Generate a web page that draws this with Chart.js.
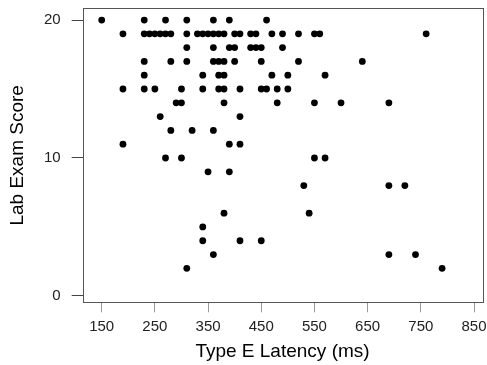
<!DOCTYPE html>
<html>
<head>
<meta charset="utf-8">
<script src="https://cdn.jsdelivr.net/npm/chart.js@4.4.1/dist/chart.umd.min.js"></script>
<style>
  html, body { margin: 0; padding: 0; background: #fff; }
  #wrap { width: 487px; height: 365px; }
</style>
</head>
<body>
<div id="wrap"><canvas id="scatterChart"></canvas></div>
<script>
// Type E latency (ms) and lab exam score, one entry per student
const latency = [
  150, 230, 270, 310, 360, 390, 460,
  190, 230, 240, 250, 260, 270, 280, 310, 330, 340, 350, 360, 370, 380, 400, 410, 430, 440, 470, 490, 520, 550, 560, 760,
  310, 360, 390, 400, 430, 440, 450, 490,
  230, 280, 310, 360, 370, 380, 400, 450, 520, 640,
  230, 340, 370, 380, 470, 500, 570,
  190, 230, 250, 300, 340, 370, 380, 410, 450, 460, 480, 500,
  290, 300, 380, 480, 550, 600, 690,
  260, 410,
  280, 320, 360,
  190, 390, 410,
  270, 300, 550, 570,
  350, 390,
  530, 690, 720,
  380, 540,
  340,
  340, 410, 450,
  360, 690, 740,
  310, 790
];
const score = [
  20, 20, 20, 20, 20, 20, 20,
  19, 19, 19, 19, 19, 19, 19, 19, 19, 19, 19, 19, 19, 19, 19, 19, 19, 19, 19, 19, 19, 19, 19, 19,
  18, 18, 18, 18, 18, 18, 18, 18,
  17, 17, 17, 17, 17, 17, 17, 17, 17, 17,
  16, 16, 16, 16, 16, 16, 16,
  15, 15, 15, 15, 15, 15, 15, 15, 15, 15, 15, 15,
  14, 14, 14, 14, 14, 14, 14,
  13, 13,
  12, 12, 12,
  11, 11, 11,
  10, 10, 10, 10,
  9, 9,
  8, 8, 8,
  6, 6,
  5,
  4, 4, 4,
  3, 3, 3,
  2, 2
];
const xTicks = [150, 250, 350, 450, 550, 650, 750, 850];
const yTicks = [0, 10, 20];

// full box around the plot region, like base R graphics
const boxPlugin = {
  id: 'box',
  afterDraw(chart) {
    const { ctx, chartArea: a } = chart;
    ctx.save();
    ctx.strokeStyle = '#555';
    ctx.lineWidth = 1;
    ctx.strokeRect(Math.round(a.left) + 0.5, Math.round(a.top) + 0.5,
      Math.round(a.right - a.left), Math.round(a.bottom - a.top));
    ctx.restore();
  }
};

const ctx = document.getElementById('scatterChart').getContext('2d');
new Chart(ctx, {
  type: 'scatter',
  data: {
    datasets: [{
      data: latency.map((v, i) => ({ x: v, y: score[i] })),
      backgroundColor: '#000',
      borderWidth: 0,
      pointRadius: 3.4,
      pointHoverRadius: 3.4
    }]
  },
  options: {
    responsive: true,
    maintainAspectRatio: false,
    animation: false,
    layout: { padding: { left: 0, right: 4.7, top: 8.3, bottom: 0 } },
    plugins: {
      legend: { display: false },
      tooltip: { enabled: false }
    },
    scales: {
      x: {
        type: 'linear',
        min: 114.3,
        max: 865.6,
        afterBuildTicks: s => { s.ticks = xTicks.map(v => ({ value: v })); },
        afterFit: s => { s.height = 62.7; s.paddingLeft = 0; s.paddingRight = 0; },
        border: { display: false },
        grid: { drawOnChartArea: false, tickLength: 10, color: '#999' },
        ticks: {
          color: '#222',
          padding: 6,
          maxRotation: 0,
          autoSkip: false,
          font: { family: 'Liberation Sans, Arial, sans-serif', size: 15 }
        },
        title: {
          display: true,
          text: 'Type E Latency (ms)',
          color: '#000',
          padding: { top: 0, bottom: 1.6 },
          font: { family: 'Liberation Sans, Arial, sans-serif', size: 19 }
        }
      },
      y: {
        type: 'linear',
        min: -0.46,
        max: 20.85,
        afterBuildTicks: s => { s.ticks = yTicks.map(v => ({ value: v })); },
        afterFit: s => { s.width = 82.7; s.paddingTop = 0; s.paddingBottom = 0; },
        border: { display: false },
        grid: { drawOnChartArea: false, tickLength: 11, color: '#444' },
        ticks: {
          color: '#222',
          padding: 11,
          autoSkip: false,
          font: { family: 'Liberation Sans, Arial, sans-serif', size: 15 }
        },
        title: {
          display: true,
          text: 'Lab Exam Score',
          color: '#000',
          padding: { top: 6.6, bottom: 0 },
          font: { family: 'Liberation Sans, Arial, sans-serif', size: 19 }
        }
      }
    }
  },
  plugins: [boxPlugin]
});
</script>
</body>
</html>
